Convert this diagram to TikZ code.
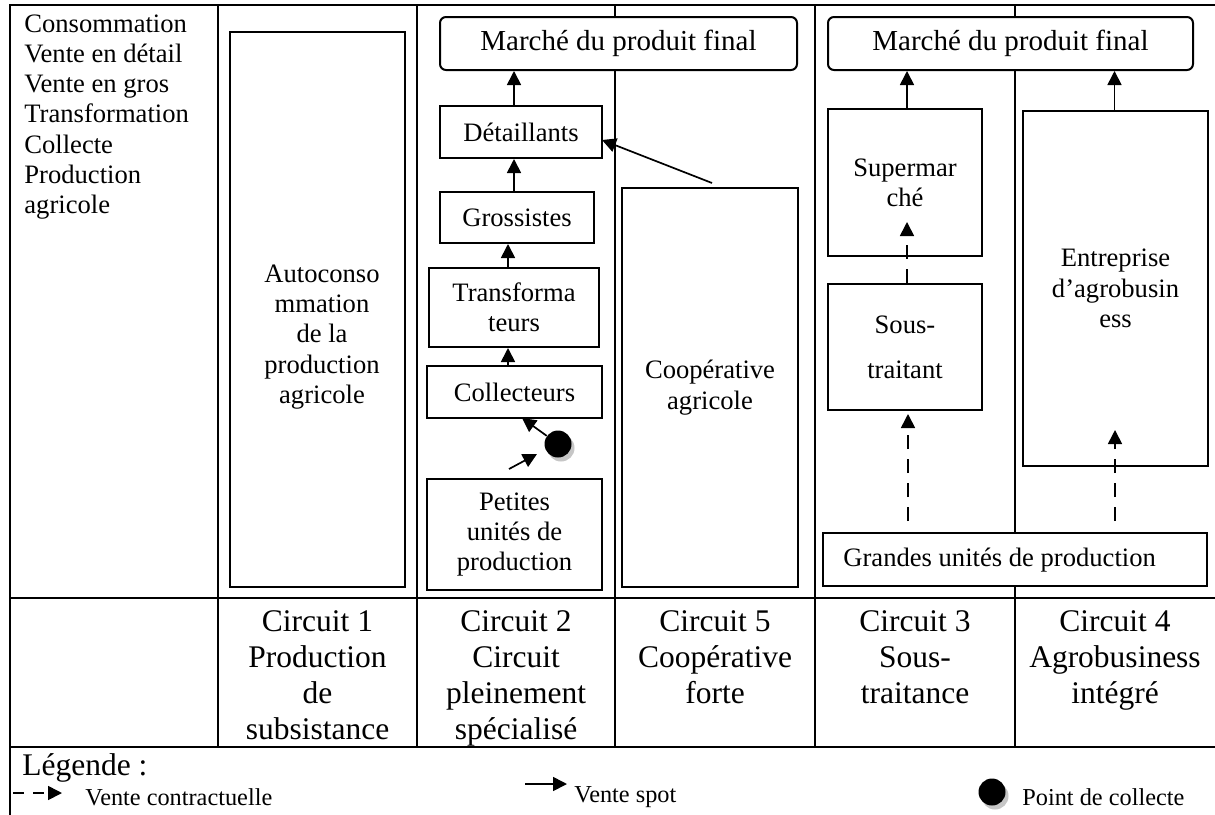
\documentclass[tikz,border=0pt]{standalone}
\usepackage{fontspec}
\setmainfont{Liberation Serif}
\usetikzlibrary{arrows.meta}
\newcommand\fbody{\fontsize{13.3pt}{15.15pt}\selectfont}
\newcommand\fsous{\fontsize{13.3pt}{22.5pt}\selectfont}
\newcommand\fmarche{\fontsize{14.5pt}{17pt}\selectfont}
\newcommand\fbig{\fontsize{15.75pt}{18pt}\selectfont}
\newcommand\fsmall{\fontsize{12.15pt}{14pt}\selectfont}
\begin{document}
\begin{tikzpicture}[x=0.5pt,y=-0.5pt,
  tbl/.style={line width=1.35pt, line cap=rect},
  box/.style={draw, line width=1pt, fill=white, inner sep=0pt, align=center, font=\fbody},
  txt/.style={inner sep=0pt, align=center, font=\fbody},
  bigtxt/.style={inner sep=0pt, align=center, font=\fbig},
  smalltxt/.style={inner sep=0pt, anchor=west, font=\fsmall},
  spot/.style={line width=0.85pt, -{Triangle[length=7pt,width=7pt]}},
  contract/.style={spot, dash pattern=on 7pt off 5pt},
  dotst/.style={circle, fill=black, minimum size=13.5pt, inner sep=0pt},
  dotsh/.style={circle, fill=gray!45, minimum size=13.5pt, inner sep=0pt}]
\useasboundingbox (0,0) rectangle (1215,814);
\fill[white] (0,0) rectangle (1215,814);
% table
\draw[tbl] (10,5) -- (1215,5);
\draw[tbl] (10,598) -- (1215,598);
\draw[tbl] (10,747) -- (1215,747);
\draw[tbl] (10,5) -- (10,814);
\foreach \x in {218,417,615,815,1015} \draw[tbl] (\x,5) -- (\x,747);
% left list
\node[txt, anchor=west, align=left] (list) at (24,117) {Consommation\\Vente en détail\\Vente en gros\\Transformation\\Collecte\\Production\\agricole};
% circuit 1
\node[box, minimum width=87.5pt, minimum height=277.5pt] (auto) at (317.5,309.5) {};
\node[txt] (autot) at (322,337) {Autoconso\\mmation\\de la\\production\\agricole};
% circuit 2
\node[box, rounded corners=3pt, minimum width=178.5pt, minimum height=26.5pt, font=\fmarche] (m1) at (618.5,43.5) {Marché du produit final};
\node[box, minimum width=81pt, minimum height=26pt] (det) at (521,132) {Détaillants};
\node[box, minimum width=77pt, minimum height=25.5pt] (gros) at (517,217.5) {Grossistes};
\node[box, minimum width=85pt, minimum height=39.5pt] (trans) at (514,307.5) {Transforma\\teurs};
\node[box, minimum width=87.5pt, minimum height=26pt] (coll) at (514.5,392) {Collecteurs};
\node[box, minimum width=87.5pt, minimum height=55.5pt] (pet) at (514.5,534.5) {Petites\\unités de\\production};
% circuit 5
\node[box, minimum width=88pt, minimum height=199.5pt] (coop) at (710,387.5) {Coopérative\\agricole};
% circuits 3 and 4
\node[box, rounded corners=3pt, minimum width=182.5pt, minimum height=26.5pt, font=\fmarche] (m2) at (1010.5,43.5) {Marché du produit final};
\node[box, minimum width=77pt, minimum height=73.5pt] (super) at (905,182.5) {Supermar\\ché};
\node[box, minimum width=77pt, minimum height=63pt, font=\fsous] (sous) at (905,347) {Sous-\\traitant};
\node[box, minimum width=92.5pt, minimum height=177.5pt] (entr) at (1115.5,288.5) {Entreprise\\d’agrobusin\\ess};
\node[box, minimum width=192pt, minimum height=26.5pt] (grandes) at (1015,559.5) {};
\node[txt, anchor=west] (grandest) at (843,560) {Grandes unités de production};
% collection point
\node[dotsh] (dotshadow) at (561,448) {};
\node[dotst] (dot) at (558,444) {};
% arrows
\coordinate (xa) at (514,0);
\coordinate (xb) at (508,0);
\coordinate (xc) at (907,0);
\coordinate (xd) at (1114.5,0);
\draw[spot] (det.north -| xa) -- (m1.south -| xa);
\draw[spot] (gros.north -| xa) -- (det.south -| xa);
\draw[spot] (trans.north -| xb) -- (gros.south -| xb);
\draw[spot] (coll.north -| xb) -- (trans.south -| xb);
\coordinate (colltip) at (522,418);
\draw[spot] (dot) -- (colltip);
\coordinate (pa) at (509,469);
\coordinate (pb) at (537,454);
\draw[spot] (pa) -- (pb);
\coordinate (coopstart) at (712,183);
\coordinate (dettip) at (602,140);
\draw[spot] (coopstart) -- (dettip);
\draw[spot] (super.north -| xc) -- (m2.south -| xc);
\draw[spot] (entr.north -| xd) -- (m2.south -| xd);
\coordinate (supin) at (907,222);
\draw[contract] (sous.north -| xc) -- (supin);
\coordinate (gs) at (908,521);
\coordinate (soustip) at (908,414);
\draw[contract] (gs) -- (soustip);
\coordinate (ge) at (1115,521);
\coordinate (entrin) at (1115,430);
\draw[contract] (ge) -- (entrin);
% bottom row
\node[bigtxt, anchor=north] (c1) at (317.5,610) {Circuit 1\\Production\\de\\subsistance};
\node[bigtxt, anchor=north] (c2) at (516,610) {Circuit 2\\Circuit\\pleinement\\spécialisé};
\node[bigtxt, anchor=north] (c5) at (715,610) {Circuit 5\\Coopérative\\forte};
\node[bigtxt, anchor=north] (c3) at (915,610) {Circuit 3\\Sous-\\traitance};
\node[bigtxt, anchor=north] (c4) at (1115,610) {Circuit 4\\Agrobusiness\\intégré};
% legend
\node[bigtxt, anchor=west] (leg) at (22,768) {Légende :};
\coordinate (la) at (13,793);
\coordinate (lb) at (62,793);
\draw[spot, dash pattern=on 5.5pt off 4.5pt] (la) -- (lb);
\node[smalltxt] (lc) at (85,797) {Vente contractuelle};
\coordinate (sa) at (525,784);
\coordinate (sb) at (567,784);
\draw[spot] (sa) -- (sb);
\node[smalltxt] (ls) at (574,797) {Vente spot};
\node[dotsh] (ldotshadow) at (995,796) {};
\node[dotst] (ldot) at (992,792) {};
\node[smalltxt] (lp) at (1022,797) {Point de collecte};
\end{tikzpicture}
\end{document}
